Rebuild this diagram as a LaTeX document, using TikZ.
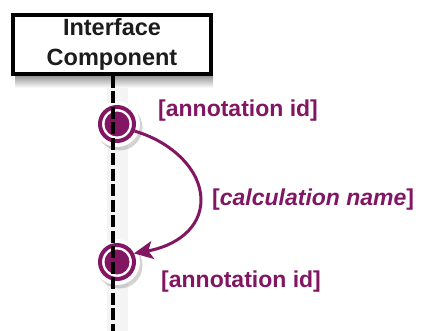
\documentclass[tikz,border=0pt]{standalone}
\usepackage{fontspec}
\setmainfont{Liberation Sans}
\usetikzlibrary{arrows.meta,shadows}
\definecolor{pc}{RGB}{130,22,98}
\definecolor{bandc}{RGB}{244,244,244}
\definecolor{boxtext}{RGB}{28,28,28}
\begin{document}
\begin{tikzpicture}[x=1pt,y=-1pt,
  halo/.style={circle,fill=white,minimum size=46pt,inner sep=0pt,
    drop shadow={shadow xshift=2.5pt,shadow yshift=-3.5pt,opacity=0.35}},
  ring/.style={circle,draw=pc,line width=4pt,minimum size=34pt,inner sep=0pt},
  disk/.style={circle,fill=pc,minimum size=25pt,inner sep=0pt},
  lbl/.style={anchor=west,inner sep=0pt,text=pc,font=\fontsize{23}{28}\selectfont\bfseries},
  comp/.style={draw=black,line width=3.5pt,fill=white,minimum width=198pt,minimum height=59pt,
    inner sep=0pt,align=center,text=boxtext,font=\fontsize{23.5}{30}\selectfont\bfseries},
  lifeline/.style={draw=black,line width=3.5pt,dash pattern=on 12pt off 3.5pt},
  msg/.style={draw=pc,line width=3pt,-{Stealth[length=19pt,width=18pt,inset=4.5pt]}}
]
\useasboundingbox (0,0) rectangle (421,331);
% faint band behind lifeline
\fill[bandc] (107,76) rectangle (128,331);
% box shadow
\shade[top color=black!40,bottom color=white] (15,76) rectangle (213,88);
% component box
\node[comp] (box) at (112,44.5) {\raisebox{-2pt}{Interface}\\\raisebox{-2pt}{Component}};
% activations
\node[halo] (h1) at (117,124) {};
\node[halo] (h2) at (117,262) {};
\node[ring] (r1) at (h1.center) {};
\node[ring] (r2) at (h2.center) {};
\node[disk] (d1) at (h1.center) {};
\node[disk] (d2) at (h2.center) {};
% lifeline
\coordinate (lend) at (113,331);
\draw[lifeline] (box.south -| lend) -- (lend);
% self message
\coordinate (bend) at (201,200);
\draw[msg] (r1.-22) .. controls (172,142) and (201,170) .. (bend)
  .. controls (201,228) and (176,246) .. (r2.27);
% labels
\node[lbl] (a1) at (158,111) {[annotation id]};
\node[lbl] (a2) at (161,282) {[annotation id]};
\node[lbl] (cn) at (212,200) {[\textit{calculation name}]};
\end{tikzpicture}
\end{document}
